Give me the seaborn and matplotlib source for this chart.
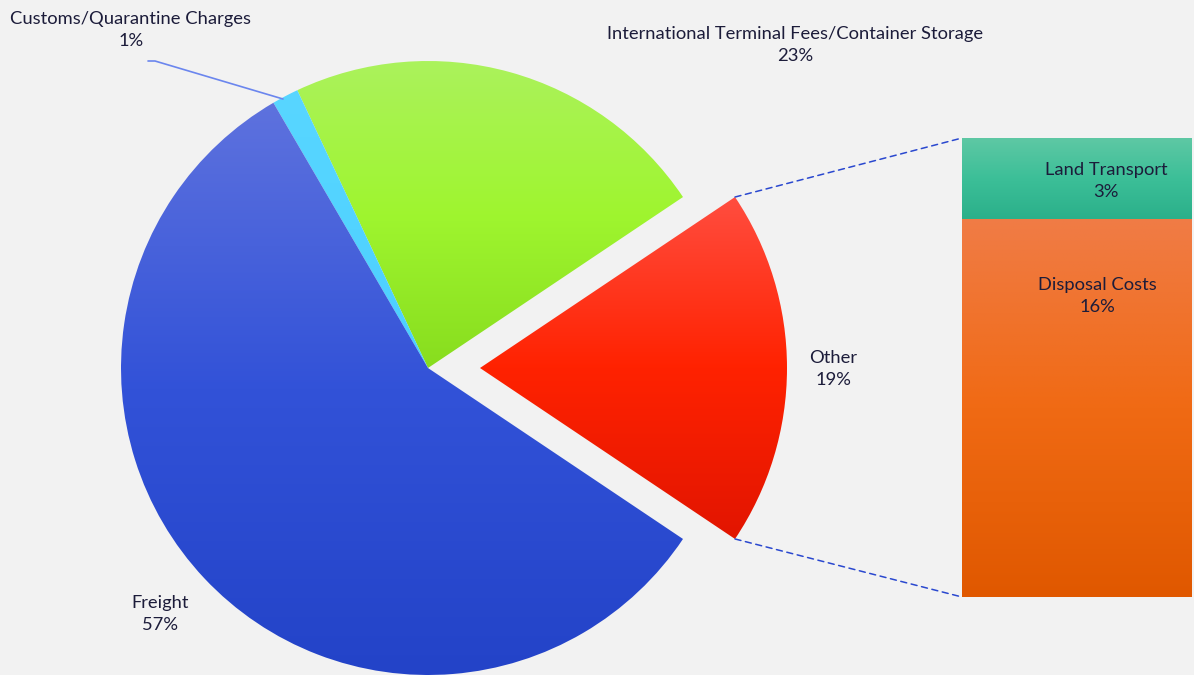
import numpy as np
import matplotlib
matplotlib.use("Agg")
import matplotlib.pyplot as plt
import seaborn as sns
from matplotlib.patches import ConnectionPatch
from matplotlib.colors import to_rgb

# ----------------------
# Data
# ----------------------
pie_labels = ["Other", "International Terminal Fees/Container Storage",
              "Customs/Quarantine Charges", "Freight"]
pie_values = [18.8, 22.6, 1.4, 57.2]
pie_pct = ["19%", "23%", "1%", "57%"]

bar_labels = ["Disposal Costs", "Land Transport"]
bar_values = [15.5, 3.3]
bar_pct = ["16%", "3%"]

# gradient colours (top, middle, bottom)
pie_colors = [("#ff4d3f", "#ff2200", "#e21500"),
              ("#abf25c", "#9ff52f", "#88dd1e"),
              ("#58d6ff", "#52d3ff", "#4ccfff"),
              ("#5e72de", "#3252d8", "#2343c8")]
bar_colors = [("#f07c46", "#f06a14", "#e05800"),
              ("#5ec8a4", "#3cbf98", "#2bb08a")]

BG = "#f2f2f2"
TXT = "#1c1c3a"
W, H = 1194, 675

sns.set_theme(style="white", rc={"figure.facecolor": BG, "axes.facecolor": BG})
plt.rcParams["font.family"] = ["Lato", "DejaVu Sans"]


def gradient(ax, stops, extent, clip, z):
    # stops given top -> bottom; image rows go bottom -> top
    cols = np.array([to_rgb(c) for c in stops[::-1]])
    pos = np.linspace(0, 1, len(cols))
    t = np.linspace(0, 1, 256)
    img = np.stack([np.interp(t, pos, cols[:, k]) for k in range(3)], axis=-1)[:, None, :]
    im = ax.imshow(img, extent=extent, origin="lower", aspect="auto",
                   interpolation="bilinear", zorder=z)
    im.set_clip_path(clip)
    return im


fig = plt.figure(figsize=(W / 100, H / 100), dpi=100)
ax = fig.add_axes([0, 0, 1, 1])

# ----------------------
# Pie
# ----------------------
cx, cy, rad = 428, H - 368, 307
start = -pie_values[0] * 3.6 / 2
# explode is in data units here (pixels)
wedges, _ = ax.pie(pie_values, startangle=start, center=(cx, cy), radius=rad,
                   explode=[52, 0, 0, 0], frame=True,
                   wedgeprops=dict(linewidth=0))
for w, stops in zip(wedges, pie_colors):
    w.set_facecolor("none")
    bb = w.get_path().get_extents()
    gradient(ax, stops, (bb.x0, bb.x1, bb.y0, bb.y1), w, 1)

ax.set_xlim(0, W)
ax.set_ylim(0, H)
ax.set_aspect("equal")
ax.axis("off")

fs = 13.2
ls = 1.42
ax.text(833, H - 369, f"{pie_labels[0]}\n{pie_pct[0]}", ha="center", va="center",
        fontsize=fs, color=TXT, linespacing=ls)
ax.text(795, H - 45, f"{pie_labels[1]}\n{pie_pct[1]}", ha="center", va="center",
        fontsize=fs, color=TXT, linespacing=ls)
ax.text(131, H - 30, f"{pie_labels[2]}\n{pie_pct[2]}", ha="center", va="center",
        fontsize=fs, color=TXT, linespacing=ls)
ax.text(160, H - 614, f"{pie_labels[3]}\n{pie_pct[3]}", ha="center", va="center",
        fontsize=fs, color=TXT, linespacing=ls)
ax.plot([148, 155, 283], [H - 61, H - 61, H - 99], color="#6b86ee", lw=1.2, zorder=3)

# ----------------------
# Bar of "Other"
# ----------------------
bax = fig.add_axes([962 / W, (H - 597) / H, (1192 - 962) / W, (597 - 138) / H])
total = sum(bar_values)
sns.barplot(x=[0], y=[total], color=bar_colors[1][1], width=1, ax=bax)
sns.barplot(x=[0], y=[bar_values[0]], color=bar_colors[0][1], width=1, ax=bax)
bax.set_xlim(-0.5, 0.5)
bax.set_ylim(0, total)
bax.axis("off")
bax.patch.set_alpha(0)

p_total, p_disp = bax.patches[0], bax.patches[1]
for p in (p_total, p_disp):
    p.set_facecolor("none")
    p.set_linewidth(0)
gradient(bax, bar_colors[1], (-0.5, 0.5, bar_values[0], total), p_total, 1)
gradient(bax, bar_colors[0], (-0.5, 0.5, 0, bar_values[0]), p_disp, 2)
bax.set_xlim(-0.5, 0.5)
bax.set_ylim(0, total)

bax.text(0.126, 17.04, f"{bar_labels[1]}\n{bar_pct[1]}",
         ha="center", va="center", fontsize=fs, color=TXT, linespacing=ls, zorder=5)
bax.text(0.087, 12.33, f"{bar_labels[0]}\n{bar_pct[0]}",
         ha="center", va="center", fontsize=fs, color=TXT, linespacing=ls, zorder=5)

# connectors from exploded wedge to bar
w = wedges[0]
for ang, yb in ((w.theta2, total), (w.theta1, 0)):
    xa = w.center[0] + w.r * np.cos(np.radians(ang))
    ya = w.center[1] + w.r * np.sin(np.radians(ang))
    con = ConnectionPatch(xyA=(xa, ya), coordsA=ax.transData,
                          xyB=(-0.5, yb), coordsB=bax.transData,
                          color="#2a48cf", lw=1.1, linestyle=(0, (4, 3)))
    fig.add_artist(con)

fig.savefig("out.png", dpi=100, facecolor=BG)
